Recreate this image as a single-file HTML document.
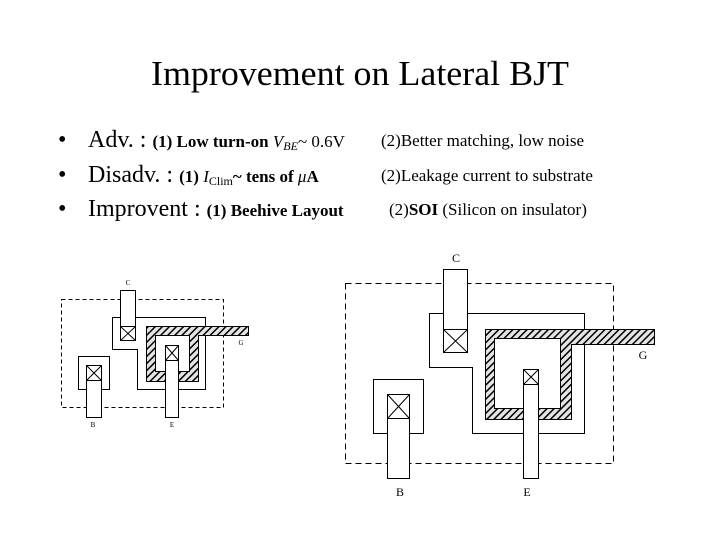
<!DOCTYPE html>
<html><head><meta charset="utf-8"><style>
html,body{margin:0;padding:0;background:#fff}
svg{display:block}
text{font-family:"Liberation Serif",serif;fill:#000}
</style></head><body>
<svg width="720" height="540" viewBox="0 0 720 540" xmlns="http://www.w3.org/2000/svg">
<defs>
<pattern id="h" width="5" height="5" patternUnits="userSpaceOnUse" patternTransform="rotate(45)">
<rect width="5" height="5" fill="#e4e4e4"/><rect width="1.5" height="5" fill="#000"/>
</pattern>
</defs>
<text x="360" y="85" font-size="35" text-anchor="middle" textLength="418" lengthAdjust="spacingAndGlyphs">Improvement on Lateral BJT</text>
<g font-size="24">
<text x="58" y="147">•</text><text x="88" y="147">Adv. : <tspan font-size="17" font-weight="bold">(1) Low turn-on <tspan font-style="italic" font-weight="normal">V</tspan><tspan font-style="italic" font-weight="normal" font-size="12" dy="3">BE</tspan><tspan dy="-3" font-weight="normal">~ 0.6V</tspan></tspan></text>
<text x="58" y="182">•</text><text x="88" y="182">Disadv. : <tspan font-size="17" font-weight="bold">(1) <tspan font-style="italic" font-weight="normal">I</tspan><tspan font-size="12" font-weight="normal" dy="3">Clim</tspan><tspan dy="-3">~ tens of </tspan><tspan font-weight="normal" font-style="italic"> μ</tspan>A</tspan></text>
<text x="58" y="216">•</text><text x="88" y="216">Improvent : <tspan font-size="17" font-weight="bold">(1) Beehive Layout</tspan></text>
</g>
<g font-size="17">
<text x="381" y="146">(2)Better matching, low noise</text>
<text x="381" y="181">(2)Leakage current to substrate</text>
<text x="389" y="215">(2)<tspan font-weight="bold">SOI</tspan> (Silicon on insulator)</text>
</g>
<g fill="none" stroke="#000" stroke-width="1">
<rect x="61.5" y="299.5" width="162" height="108" stroke-dasharray="4,3"/>
<polygon points="112.5,317.5 205.5,317.5 205.5,389.5 137.5,389.5 137.5,349.5 112.5,349.5" fill="#fff"/>
<rect x="120.5" y="290.5" width="15" height="50" fill="#fff"/>
<rect x="120.5" y="326.5" width="15" height="14"/><path d="M120.5 326.5L135.5 340.5M135.5 326.5L120.5 340.5"/>
<path d="M146.5 326.5H248.5V335.5H198.5V381.5H146.5Z M155.5 335.5V371.5H189.5V335.5Z" fill="url(#h)" fill-rule="evenodd"/>
<rect x="78.5" y="356.5" width="31" height="33" fill="#fff"/>
<rect x="86.5" y="365.5" width="15" height="52" fill="#fff"/>
<rect x="86.5" y="365.5" width="15" height="15"/><path d="M86.5 365.5L101.5 380.5M101.5 365.5L86.5 380.5"/>
<rect x="165.5" y="345.5" width="13" height="72" fill="#fff"/>
<rect x="165.5" y="345.5" width="13" height="15"/><path d="M165.5 345.5L178.5 360.5M178.5 345.5L165.5 360.5"/>
<rect x="345.5" y="283.5" width="268" height="180" stroke-dasharray="6,4"/>
<polygon points="429.5,313.5 584.5,313.5 584.5,433.5 472.5,433.5 472.5,367.5 429.5,367.5" fill="#fff"/>
<rect x="443.5" y="269.5" width="24" height="83" fill="#fff"/>
<rect x="443.5" y="329.5" width="24" height="23"/><path d="M443.5 329.5L467.5 352.5M467.5 329.5L443.5 352.5"/>
<path d="M485.5 329.5H654.5V344.5H571.5V419.5H485.5Z M494.5 338.5V408.5H560.5V338.5Z" fill="url(#h)" fill-rule="evenodd"/>
<rect x="373.5" y="379.5" width="50" height="54" fill="#fff"/>
<rect x="387.5" y="394.5" width="22" height="84" fill="#fff"/>
<rect x="387.5" y="394.5" width="22" height="24"/><path d="M387.5 394.5L409.5 418.5M409.5 394.5L387.5 418.5"/>
<rect x="523.5" y="369.5" width="15" height="109" fill="#fff"/>
<rect x="523.5" y="369.5" width="15" height="15"/><path d="M523.5 369.5L538.5 384.5M538.5 369.5L523.5 384.5"/>
</g>
<g font-size="12">
<text x="456" y="262" text-anchor="middle">C</text>
<text x="643" y="359" text-anchor="middle">G</text>
<text x="400" y="496" text-anchor="middle">B</text>
<text x="527" y="496" text-anchor="middle">E</text>
</g>
<g font-size="7">
<text x="128" y="285" text-anchor="middle">C</text>
<text x="241" y="345" text-anchor="middle">G</text>
<text x="93" y="427" text-anchor="middle">B</text>
<text x="172" y="427" text-anchor="middle">E</text>
</g>
</svg>
</body></html>
